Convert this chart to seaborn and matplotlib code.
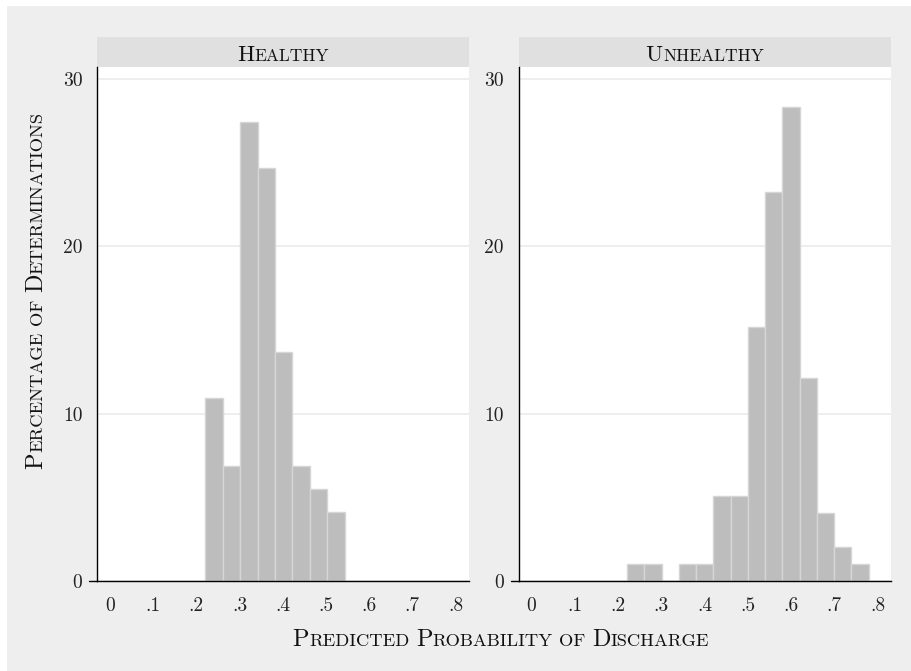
import numpy as np
import matplotlib
matplotlib.use('Agg')
import matplotlib.pyplot as plt
from matplotlib.patches import Rectangle
from matplotlib.lines import Line2D
import seaborn as sns

# histogram bins (first edge, bin width) and counts per bin
healthy_start = 0.2205
healthy_width = 0.0403
healthy_counts = [8, 5, 20, 18, 10, 5, 4, 3]

unhealthy_start = 0.2208
unhealthy_width = 0.0399
unhealthy_counts = [1, 1, 0, 1, 1, 5, 5, 15, 23, 28, 12, 4, 2, 1]

panel_titles = ['Healthy', 'Unhealthy']
x_ticks = [0, 0.1, 0.2, 0.3, 0.4, 0.5, 0.6, 0.7, 0.8]
x_tick_labels = ['0', '.1', '.2', '.3', '.4', '.5', '.6', '.7', '.8']
y_ticks = [0, 10, 20, 30]
x_title = 'Predicted Probability of Discharge'
y_title = 'Percentage of Determinations'

sns.set_style('white')
plt.rcParams['font.family'] = ['cmr10', 'DejaVu Serif']
plt.rcParams['axes.formatter.use_mathtext'] = True

W, H = 912, 671
fig = plt.figure(figsize=(W / 100, H / 100), dpi=100, facecolor='white')

# gray plot background
fig.patches.append(Rectangle((7 / W, 0), 1, (H - 6) / H, transform=fig.transFigure,
                             facecolor='#eeeeee', edgecolor='none', zorder=-10))


def px_box(x0, x1, ytop, ybot):
    return [x0 / W, (H - ybot) / H, (x1 - x0) / W, (ybot - ytop) / H]


panels = [
    (healthy_start, healthy_width, healthy_counts, 97.5, 469),
    (unhealthy_start, unhealthy_width, unhealthy_counts, 519, 891),
]

bar_color = '#bdbdbd'
edge_color = '#d6d6d6'

for (start, width, counts, x0, x1), title in zip(panels, panel_titles):
    ax = fig.add_axes(px_box(x0, x1, 67, 581))
    ax.set_facecolor('white')
    edges = start + width * np.arange(len(counts) + 1)
    centers = (edges[:-1] + edges[1:]) / 2
    sns.histplot(x=list(centers), weights=counts, bins=list(edges), stat='percent', ax=ax,
                 color=bar_color, edgecolor=edge_color, linewidth=1, alpha=1)
    ax.set_xlim(-0.029, 0.831)
    ax.set_ylim(0, 30.7)
    ax.set_xticks(x_ticks)
    ax.set_xticklabels(x_tick_labels)
    ax.set_yticks(y_ticks)
    ax.set_yticklabels([str(v) for v in y_ticks])
    ax.set_xlabel('')
    ax.set_ylabel('')
    ax.yaxis.grid(True, color='#ebebeb', linewidth=1.2)
    ax.xaxis.grid(False)
    ax.set_axisbelow(True)
    for s in ['top', 'right']:
        ax.spines[s].set_visible(False)
    for s in ['left', 'bottom']:
        ax.spines[s].set_color('black')
        ax.spines[s].set_linewidth(1)
    ax.tick_params(axis='both', which='major', direction='out', length=5.8, width=0.8,
                   color='black', labelsize=14, labelcolor='#222222')
    ax.tick_params(axis='y', pad=5)
    ax.tick_params(axis='x', pad=6)
    # x axis line runs out under the y ticks
    ax.add_line(Line2D([-8 / (x1 - x0), 0], [0, 0], transform=ax.transAxes,
                       color='black', linewidth=1, clip_on=False))
    # header strip
    fig.patches.append(Rectangle((x0 / W, (H - 67) / H), (x1 - x0) / W, 30 / H,
                                 transform=fig.transFigure, facecolor='#e0e0e0',
                                 edgecolor='none', zorder=-5))

renderer = fig.canvas.get_renderer()


def small_caps(x, y, text, size, rotation=0, ratio=0.76):
    # fake small caps: capitals big, lower case letters as smaller capitals
    runs = []
    for ch in text:
        if ch == ' ':
            runs.append((' ', size * ratio))
        elif ch.isupper():
            if runs and runs[-1][1] == size and runs[-1][0] != ' ':
                runs[-1] = (runs[-1][0] + ch, size)
            else:
                runs.append((ch, size))
        else:
            if runs and runs[-1][1] == size * ratio and runs[-1][0] != ' ':
                runs[-1] = (runs[-1][0] + ch.upper(), size * ratio)
            else:
                runs.append((ch.upper(), size * ratio))
    texts = []
    advances = []
    for s, fs in runs:
        if s == ' ':
            texts.append(None)
            advances.append(0.33 * fs * 100 / 72)
            continue
        t = fig.text(0, 0, s, fontsize=fs, color='#111111', ha='left', va='baseline')
        advances.append(t.get_window_extent(renderer).width + 0.3)
        texts.append(t)
    total = sum(advances)
    pos = -total / 2
    for t, adv in zip(texts, advances):
        if t is not None:
            if rotation == 0:
                t.set_position(((x + pos) / W, (H - y) / H))
            else:
                t.set_rotation(90)
                t.set_rotation_mode('anchor')
                t.set_position((x / W, (H - y + pos) / H))
        pos += adv


small_caps(283, 61, panel_titles[0], 16.5)
small_caps(705, 61, panel_titles[1], 16.5)
small_caps(501, 646, x_title, 17.5)
small_caps(42, 290, y_title, 17.5, rotation=90)

fig.savefig('out.png', dpi=100, facecolor=fig.get_facecolor())
